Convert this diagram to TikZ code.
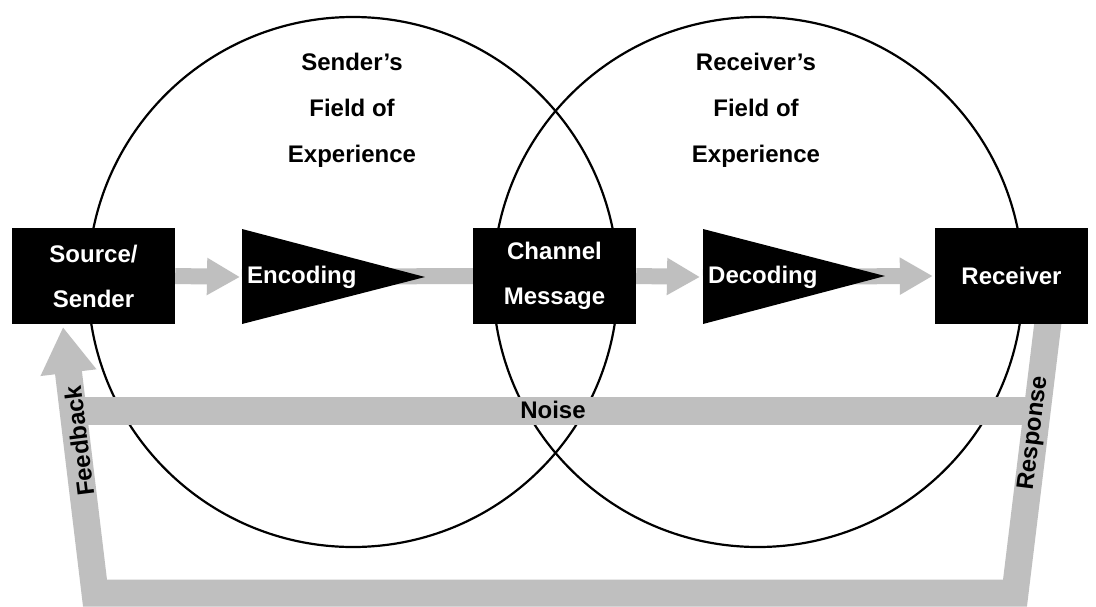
\documentclass[tikz,border=0pt]{standalone}
\usepackage{fontspec}
\setmainfont{Liberation Sans}
\usetikzlibrary{arrows.meta}
\definecolor{bargray}{HTML}{BFBFBF}
\pgfdeclarelayer{background}
\pgfsetlayers{background,main}

\begin{document}
\begin{tikzpicture}[x=1pt, y=-1pt,
    ring/.style={line width=2.2pt},
    box/.style={fill=black, text=white, inner sep=0pt, minimum height=96pt, align=center, font=\bfseries\fontsize{24}{45}\selectfont},
    tag/.style={inner sep=0pt, align=center, font=\bfseries\fontsize{24}{46}\selectfont},
    bar/.style={draw=bargray, line width=28pt},
    flowarrow/.style={draw=bargray, line width=16pt, -{Triangle[width=35pt, length=33pt]}},
    backline/.style={draw=bargray, line width=27pt, line join=miter, -{Triangle[width=53pt, length=46pt]}}]
\useasboundingbox (0,0) rectangle (1096,606);

% BOXES
\node[box, minimum width=163pt] (src) at (93.5,276) {Source/\\Sender};
\node[box, minimum width=163pt] (chan) at (554.5,276) {Channel\\Message};
\node[box, minimum width=153pt] (recv) at (1011.5,276) {Receiver};

% encoding wedge
\coordinate (encTop) at (242,229);
\coordinate (encBot) at (242,324);
\coordinate (encL) at (242,277);
\coordinate (encTip) at (425,277);
\fill (encTop) -- (encBot) -- (encTip) -- cycle;
\node[tag, text=white, anchor=base west] (enc) at (247,283) {Encoding};
% decoding wedge
\coordinate (decTop) at (703,229);
\coordinate (decBot) at (703,324);
\coordinate (decL) at (703,277);
\coordinate (decTip) at (885,276);
\fill (decTop) -- (decBot) -- (decTip) -- cycle;
\node[tag, text=white, anchor=base west] (dec) at (708,283) {Decoding};

% fields of experience
\coordinate (sc) at (353,282);
\coordinate (rc) at (758,282);
\node[tag] (sfield) at (352,110) {Sender's\\Field of\\Experience};
\node[tag] (rfield) at (756,110) {Receiver's\\Field of\\Experience};

% noise, feedback and response
\coordinate (nL) at (73,411);
\coordinate (nR) at (1037,411);
\node[tag] (noise) at (553,410) {Noise};
\coordinate (rspTop) at (1048,322);
\coordinate (rspBot) at (1015,593);
\coordinate (fbBot) at (95,593);
\coordinate (fbTop) at (63,327);
\node[tag, rotate=97] (fback) at (79,441) {Feedback};
\node[tag, rotate=83] (resp) at (1034,433) {Response};

\begin{pgfonlayer}{background}
\fill[white] (0,0) rectangle (1096,606);
\draw[ring] (sc) circle[radius=265pt];
\draw[ring] (rc) circle[radius=265pt];
% gray bars over the circles
\draw[bar] (nL) -- (nR);
\draw[backline] (rspTop) -- (rspBot) -- (fbBot) -- (fbTop);
\draw[flowarrow] (src.east) -- ([xshift=-2pt]encL);
\draw[bargray, line width=16pt] (encL) -- (chan.west);
\draw[flowarrow] (chan.east) -- ([xshift=-3pt]decL);
\draw[flowarrow] (decL) -- ([xshift=-2pt]recv.west);
\end{pgfonlayer}
\end{tikzpicture}
\end{document}
